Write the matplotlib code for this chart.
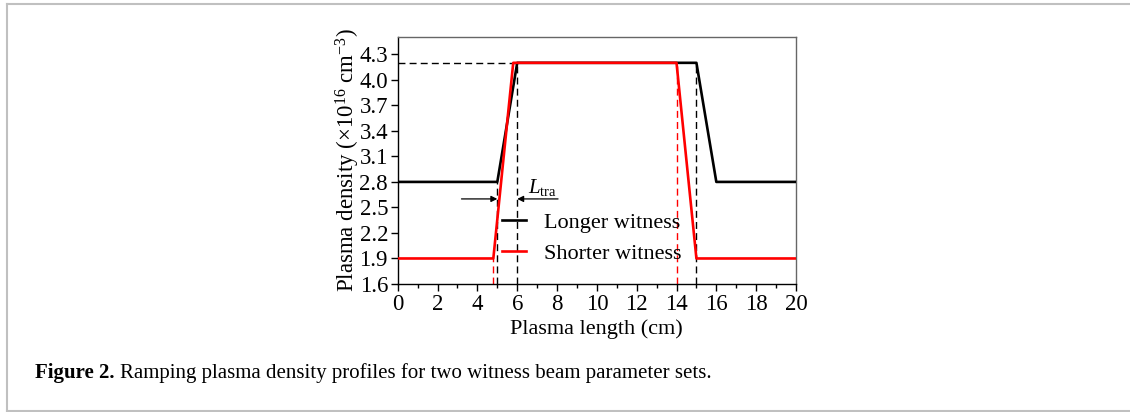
import matplotlib
matplotlib.use("Agg")
import matplotlib.pyplot as plt
import numpy as np
from matplotlib.ticker import MultipleLocator

plt.rcParams['font.family'] = ['Liberation Serif', 'DejaVu Serif']
plt.rcParams['mathtext.fontset'] = 'custom'
plt.rcParams['mathtext.rm'] = 'Liberation Serif'
plt.rcParams['mathtext.it'] = 'Liberation Serif:italic'

# Density profiles (piecewise linear), position in cm, density in 1e16 cm^-3
longer_x = [0, 5, 6, 15, 16, 20]
longer_n = [2.8, 2.8, 4.2, 4.2, 2.8, 2.8]
shorter_x = [0, 4.8, 5.8, 14, 15, 20]
shorter_n = [1.9, 1.9, 4.2, 4.2, 1.9, 1.9]

plateau = 4.2
y_ticks = [1.6, 1.9, 2.2, 2.5, 2.8, 3.1, 3.4, 3.7, 4.0, 4.3]

fig = plt.figure(figsize=(11.3, 4.12), dpi=100)

# outer frame of the figure panel
frame_col = '#c0c0c0'
fig.add_artist(plt.Line2D([0.0062, 1.0], [0.9915, 0.9915], color=frame_col, lw=1.5, transform=fig.transFigure))
fig.add_artist(plt.Line2D([0.0062, 0.0062], [0.0, 0.9915], color=frame_col, lw=1.5, transform=fig.transFigure))
fig.add_artist(plt.Line2D([0.0062, 1.0], [0.003, 0.003], color=frame_col, lw=1.5, transform=fig.transFigure))

ax = fig.add_axes([0.352, 0.3107, 0.3524, 0.6002])

dash = dict(lw=1.0, linestyle=(0, (5, 3)))
# guide lines
ax.plot([0, 6], [plateau, plateau], color='black', **dash)
ax.plot([4.8, 4.8], [1.6, 1.9], color='red', **dash)
ax.plot([5, 5], [1.6, 2.8], color='black', **dash)
ax.plot([6, 6], [1.6, plateau], color='black', **dash)
ax.plot([14, 14], [1.6, plateau], color='red', **dash)
ax.plot([15, 15], [1.6, plateau], color='black', **dash)

ax.plot(longer_x, longer_n, color='black', lw=1.9, label='Longer witness', zorder=3)
ax.plot(shorter_x, shorter_n, color='red', lw=1.9, label='Shorter witness', zorder=4)

# transition-length arrows
ax.annotate('', xy=(5, 2.6), xytext=(3.2, 2.6),
            arrowprops=dict(arrowstyle='-|>', color='black', lw=0.9, mutation_scale=9, shrinkA=0, shrinkB=0))
ax.annotate('', xy=(6, 2.6), xytext=(8.05, 2.6),
            arrowprops=dict(arrowstyle='-|>', color='black', lw=0.9, mutation_scale=9, shrinkA=0, shrinkB=0))
ax.text(6.55, 2.74, r'$L_{\mathrm{tra}}$', fontsize=15, va='center', ha='left')

ax.set_xlim(0, 20)
ax.set_ylim(1.6, 4.507)
ax.set_xticks(np.arange(0, 21, 2))
ax.xaxis.set_minor_locator(MultipleLocator(1))
ax.set_yticks(y_ticks)
ax.set_yticklabels([f'{v:.1f}' for v in y_ticks])
ax.tick_params(axis='both', which='major', labelsize=16.5, length=5, width=1, pad=2)
ax.tick_params(axis='x', which='minor', length=3, width=1)
for side in ['top', 'right']:
    ax.spines[side].set_color('#666666')
for sp in ax.spines.values():
    sp.set_linewidth(1.0)

ax.set_xlabel('Plasma length (cm)', fontsize=16, labelpad=3)
ax.set_ylabel(r'Plasma density ($\times$10$^{16}$ cm$^{-3}$)', fontsize=16.5, labelpad=-2)

ax.legend(loc='lower left', bbox_to_anchor=(0.233, 0.035), frameon=False, fontsize=16,
          handlelength=1.1, handletextpad=0.8, labelspacing=0.5, borderpad=0)

cap_y = 0.0825
t1 = fig.text(0.031, cap_y, 'Figure 2.', fontsize=15, fontweight='bold', va='baseline')
fig.canvas.draw()
bb = t1.get_window_extent(renderer=fig.canvas.get_renderer())
x2 = (bb.x1 + 5) / fig.bbox.width
fig.text(x2, cap_y, 'Ramping plasma density profiles for two witness beam parameter sets.',
         fontsize=15, va='baseline')

fig.savefig('out.png', dpi=100)
